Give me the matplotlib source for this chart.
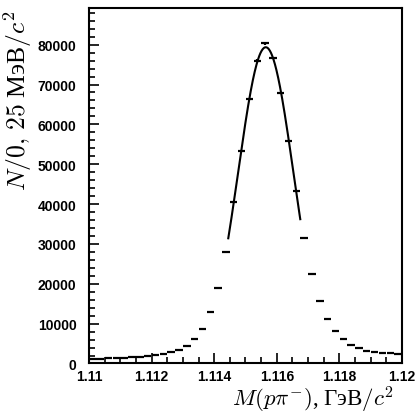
import numpy as np
import matplotlib
matplotlib.use("Agg")
import matplotlib.pyplot as plt
from matplotlib.ticker import MultipleLocator

plt.rcParams['mathtext.fontset'] = 'cm'

# histogram of M(p pi-), bin width 0.25 MeV
bin_width = 0.00025
bin_centers = np.arange(1.110125, 1.120, bin_width)
counts = np.array([
    1200, 1250, 1300, 1400, 1500, 1600, 1700, 1850,
    2100, 2450, 2900, 3500, 4400, 6100, 8600, 12800,
    19000, 28000, 40550, 53400, 66450, 76000, 80300, 76650,
    67900, 55900, 43200, 31500, 22500, 15700, 11100, 8050,
    6050, 4650, 3950, 3250, 2900, 2650, 2550, 2450,
])

# gaussian fit range
fit_lo = 1.11445
fit_hi = 1.11675

fig = plt.figure(figsize=(4.17, 4.14), dpi=100)
ax = fig.add_axes([0.2134, 0.1196, 0.7506, 0.8587])

ax.errorbar(bin_centers, counts, xerr=bin_width / 2 * 0.95, yerr=np.sqrt(counts),
            fmt='none', ecolor='black', elinewidth=1.6, capsize=0)

# fit gaussian to the points in range (log-parabola)
sel = (bin_centers > fit_lo) & (bin_centers < fit_hi)
x0 = 1.1156
p = np.polyfit(bin_centers[sel] - x0, np.log(counts[sel]), 2)
xf = np.linspace(fit_lo, fit_hi, 200)
ax.plot(xf, np.exp(np.polyval(p, xf - x0)), color='black', lw=1.5)

ax.set_xlim(1.11, 1.12)
ax.set_ylim(0, 89200)
ax.xaxis.set_major_locator(MultipleLocator(0.002))
ax.xaxis.set_minor_locator(MultipleLocator(0.0005))
ax.yaxis.set_major_locator(MultipleLocator(10000))
ax.yaxis.set_minor_locator(MultipleLocator(2000))
ax.set_xticks([1.11, 1.112, 1.114, 1.116, 1.118, 1.12])
ax.set_xticklabels(['1.11', '1.112', '1.114', '1.116', '1.118', '1.12'])

ax.tick_params(which='both', direction='in', width=1.2)
ax.tick_params(which='major', length=7)
ax.tick_params(which='minor', length=4)
ax.tick_params(axis='y', pad=9)
ax.tick_params(axis='x', pad=4)
for lab in ax.get_xticklabels() + ax.get_yticklabels():
    lab.set_fontfamily('Liberation Sans')
    lab.set_fontweight('bold')
    lab.set_fontsize(10)
for s in ax.spines.values():
    s.set_linewidth(1.5)

ax.set_xlabel(r'$M(p\pi^{-})$, ГэВ$/c^2$', fontsize=16.5, family='Liberation Serif',
              loc='right')
ax.xaxis.set_label_coords(0.975, -0.058)
ax.set_ylabel(r'$N/0,\,25$ МэВ$/c^2$', fontsize=18.5, family='Liberation Serif',
              loc='top')
ax.yaxis.set_label_coords(-0.175, 0.995)

fig.savefig('out.png', dpi=100)
